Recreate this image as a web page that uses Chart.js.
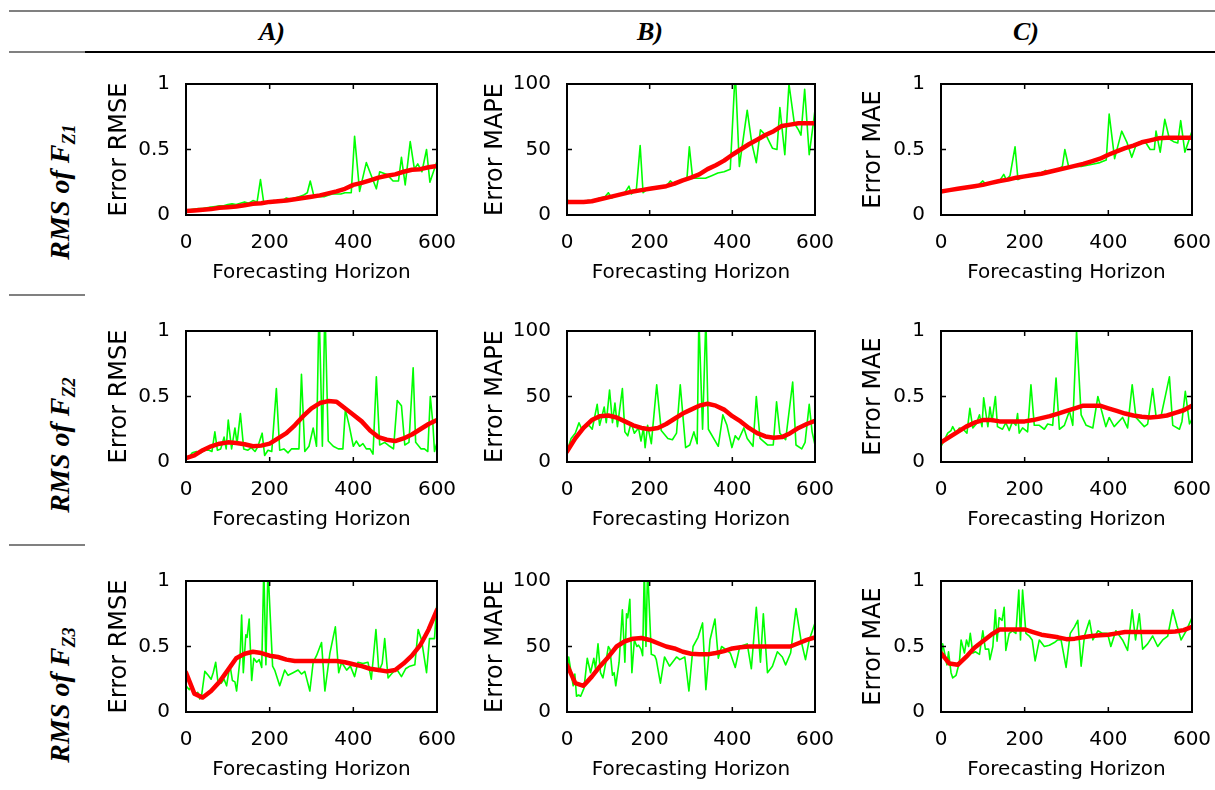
<!DOCTYPE html>
<html>
<head>
<meta charset="utf-8">
<title>Forecasting error vs horizon</title>
<script src="https://cdn.jsdelivr.net/npm/chart.js@4.4.1/dist/chart.umd.min.js"></script>
<style>
  body { margin: 0; background: #fff; }
  #page { position: relative; width: 1215px; height: 790px; overflow: hidden; background: #fff; }
  .rule { position: absolute; height: 2px; }
  .colhead { position: absolute; top: 32px; transform: translate(-50%, -50%);
             font: italic bold 26px "Liberation Serif", "Times New Roman", serif; }
  .rowlab { position: absolute; left: 62px; white-space: nowrap;
            transform: translate(-50%, -50%) rotate(-90deg);
            font: italic bold 28px "Liberation Serif", "Times New Roman", serif; }
  .rowlab sub { font-size: 0.65em; }
  canvas { position: absolute; }
</style>
</head>
<body>
<div id="page">
  <div class="rule" style="left:9px; width:1206px; top:10px; background:#808080"></div>
  <div class="rule" style="left:9px; width:76px; top:51px; background:#808080"></div>
  <div class="rule" style="left:85px; width:1130px; top:51px; background:#000"></div>
  <div class="rule" style="left:9px; width:76px; top:294px; background:#808080"></div>
  <div class="rule" style="left:9px; width:76px; top:544px; background:#808080"></div>

  <div class="colhead" style="left:272px">A)</div>
  <div class="colhead" style="left:650px">B)</div>
  <div class="colhead" style="left:1026px">C)</div>

  <div class="rowlab" style="top:192px">RMS of F<sub>Z1</sub></div>
  <div class="rowlab" style="top:445px">RMS of F<sub>Z2</sub></div>
  <div class="rowlab" style="top:695px">RMS of F<sub>Z3</sub></div>
</div>

<script>
// horizon grid of the smoothed (red) curves
const horizonSmooth = [0, 20, 40, 60, 80, 100, 120, 140, 160, 180, 200, 220, 240, 260, 280, 300,
                       320, 340, 360, 380, 400, 420, 440, 460, 480, 500, 520, 540, 560, 580, 600];

// ---- F_Z1 ----
const rawRmseZ1 = [[0,0.04],[10,0.04],[20,0.045],[30,0.05],[40,0.05],[50,0.055],[60,0.06],[70,0.065],[80,0.07],[90,0.07],
  [100,0.08],[110,0.085],[120,0.08],[130,0.09],[140,0.1],[150,0.09],[160,0.11],[170,0.1],[178,0.27],[186,0.09],[200,0.1],
  [210,0.11],[220,0.1],[230,0.11],[240,0.13],[250,0.12],[260,0.13],[270,0.14],[280,0.15],[290,0.17],[297,0.26],[306,0.14],
  [320,0.14],[330,0.14],[340,0.15],[350,0.16],[360,0.16],[370,0.16],[380,0.17],[395,0.17],[403,0.6],[415,0.18],[431,0.4],
  [443,0.3],[455,0.2],[463,0.33],[480,0.31],[495,0.26],[508,0.26],[515,0.44],[524,0.23],[536,0.56],[546,0.35],[554,0.39],
  [564,0.33],[575,0.5],[583,0.25],[600,0.41]];
const smoothRmseZ1 = [0.03,0.035,0.04,0.045,0.055,0.06,0.065,0.075,0.085,0.09,0.1,0.105,0.11,0.12,0.13,0.14,
  0.15,0.165,0.18,0.2,0.23,0.245,0.265,0.285,0.3,0.31,0.33,0.345,0.35,0.365,0.375];

const rawMapeZ1 = [[0,12],[8,9],[20,9.5],[30,10],[40,10],[50,11],[60,11],[70,12],[80,13],[92,14],[100,17],[108,13],
  [120,15],[130,16],[140,17],[150,22],[156,16],[168,20],[177,53],[184,17],[195,20],[205,21],[215,20],[225,22],[240,22],
  [250,26],[260,23],[270,25],[280,26],[290,27],[296,52],[304,28],[320,28],[335,28],[350,30],[365,32],[380,33],[395,35],
  [407,110],[417,37],[436,80],[447,55],[458,40],[468,65],[483,60],[497,51],[508,50],[515,82],[527,46],[537,100],
  [550,70],[560,65],[566,61],[575,96],[586,46],[600,80]];
const smoothMapeZ1 = [10,10,10,10.5,12,13.5,15,16.5,18,19,20,21,22,24,26.5,28.5,
  31,35,38,41.5,46,50,54,57.5,61,64,68,69,70,70,70];

const rawMaeZ1 = [[0,0.18],[10,0.19],[20,0.19],[30,0.2],[40,0.2],[50,0.21],[60,0.21],[70,0.22],[80,0.22],[90,0.23],
  [100,0.26],[108,0.23],[120,0.25],[130,0.25],[140,0.26],[150,0.31],[156,0.27],[165,0.3],[177,0.52],[184,0.27],[195,0.29],
  [210,0.3],[220,0.3],[230,0.31],[240,0.32],[250,0.34],[260,0.33],[270,0.34],[280,0.35],[290,0.37],[296,0.5],[305,0.37],
  [320,0.37],[335,0.37],[350,0.38],[365,0.39],[380,0.4],[395,0.42],[402,0.77],[415,0.43],[432,0.64],[445,0.55],[456,0.44],
  [468,0.55],[480,0.56],[490,0.55],[500,0.5],[510,0.5],[514,0.64],[524,0.48],[535,0.73],[546,0.58],[556,0.56],[566,0.55],
  [573,0.72],[583,0.48],[600,0.64]];
const smoothMaeZ1 = [0.18,0.19,0.2,0.21,0.22,0.23,0.245,0.26,0.27,0.285,0.295,0.305,0.315,0.33,0.345,0.36,
  0.375,0.39,0.41,0.43,0.46,0.485,0.51,0.53,0.555,0.57,0.585,0.59,0.59,0.59,0.59];

// ---- F_Z2 ----
const rawRmseZ2 = [[0,0.03],[8,0.04],[15,0.07],[25,0.08],[35,0.07],[45,0.09],[55,0.09],[62,0.08],[69,0.23],[75,0.09],
  [83,0.1],[91,0.19],[96,0.1],[101,0.32],[109,0.1],[117,0.26],[122,0.14],[130,0.37],[138,0.1],[148,0.09],[156,0.11],
  [165,0.08],[172,0.12],[182,0.22],[188,0.05],[196,0.09],[205,0.08],[216,0.56],[224,0.09],[234,0.1],[244,0.07],[252,0.1],
  [262,0.1],[270,0.1],[276,0.67],[284,0.08],[294,0.12],[304,0.26],[312,0.12],[318,1.2],[326,0.12],[332,1.2],[340,0.16],
  [352,0.12],[364,0.1],[375,0.1],[381,0.4],[390,0.28],[400,0.12],[407,0.16],[415,0.12],[423,0.14],[431,0.1],[440,0.1],
  [447,0.06],[455,0.65],[463,0.13],[475,0.15],[487,0.12],[496,0.1],[505,0.47],[515,0.43],[523,0.13],[533,0.15],[543,0.72],
  [549,0.15],[562,0.1],[570,0.1],[578,0.08],[584,0.5],[590,0.3],[594,0.08],[600,0.15]];
const smoothRmseZ2 = [0.03,0.05,0.09,0.12,0.14,0.15,0.145,0.135,0.12,0.125,0.14,0.18,0.22,0.28,0.35,0.41,
  0.45,0.465,0.46,0.41,0.36,0.31,0.24,0.19,0.17,0.16,0.18,0.21,0.25,0.29,0.32];

const rawMapeZ2 = [[0,8],[10,18],[20,22],[29,30],[37,24],[45,27],[53,28],[61,25],[73,44],[79,28],[90,42],[95,30],[103,55],
  [110,30],[116,45],[122,27],[134,56],[140,23],[147,20],[155,30],[163,22],[173,26],[179,16],[185,26],[189,11],[195,28],
  [204,14],[217,59],[228,24],[244,18],[255,17],[265,22],[274,59],[287,11],[297,13],[307,23],[315,14],[319,110],[328,25],
  [336,110],[342,25],[366,12],[377,36],[387,28],[399,11],[407,20],[415,17],[428,26],[436,18],[450,12],[458,50],[467,18],
  [485,13],[499,13],[507,46],[515,22],[529,17],[546,61],[554,13],[568,10],[576,15],[586,44],[593,23],[600,13]];
const smoothMapeZ2 = [8,18,26,32,35,35.5,34,31,28,26,25,26,29,33,37,40,
  43,44.5,43,40,35,31,26,22,19.5,18.5,19,22,26,29,31.5];

const rawMaeZ2 = [[0,0.12],[10,0.18],[16,0.22],[24,0.24],[28,0.27],[36,0.22],[44,0.26],[53,0.25],[62,0.22],[69,0.41],
  [76,0.26],[84,0.29],[92,0.36],[98,0.27],[102,0.49],[112,0.27],[117,0.42],[122,0.31],[130,0.5],[135,0.27],[147,0.25],
  [155,0.3],[163,0.24],[171,0.31],[179,0.28],[183,0.37],[187,0.22],[195,0.26],[207,0.23],[215,0.59],[223,0.28],[235,0.28],
  [247,0.25],[255,0.29],[267,0.28],[275,0.64],[283,0.25],[295,0.28],[307,0.39],[315,0.28],[324,1.0],[335,0.36],[347,0.28],
  [363,0.26],[375,0.5],[394,0.27],[402,0.34],[414,0.27],[434,0.34],[446,0.26],[457,0.59],[466,0.34],[486,0.27],[494,0.29],
  [506,0.56],[514,0.35],[526,0.35],[546,0.65],[554,0.28],[570,0.25],[576,0.31],[584,0.54],[594,0.29],[600,0.33]];
const smoothMaeZ2 = [0.15,0.19,0.23,0.27,0.3,0.32,0.32,0.31,0.31,0.31,0.31,0.32,0.335,0.35,0.37,0.39,
  0.41,0.43,0.43,0.43,0.41,0.39,0.37,0.355,0.345,0.34,0.345,0.355,0.375,0.395,0.43];

// ---- F_Z3 ----
const rawRmseZ3 = [[0,0.2],[8,0.17],[14,0.2],[20,0.13],[28,0.15],[33,0.1],[37,0.12],[45,0.31],[53,0.28],[60,0.25],
  [65,0.3],[71,0.38],[76,0.24],[84,0.22],[91,0.25],[97,0.2],[105,0.36],[111,0.24],[117,0.23],[121,0.16],[129,0.4],
  [133,0.74],[137,0.3],[143,0.59],[146,0.57],[151,0.71],[157,0.24],[162,0.41],[169,0.38],[175,0.4],[181,0.34],[186,1.1],
  [191,0.36],[196,1.1],[203,0.62],[207,0.35],[212,0.32],[224,0.2],[236,0.32],[244,0.28],[256,0.3],[268,0.32],[276,0.29],
  [284,0.31],[296,0.16],[304,0.38],[312,0.43],[324,0.53],[332,0.16],[344,0.45],[357,0.65],[365,0.3],[372,0.38],[384,0.32],
  [393,0.35],[403,0.27],[411,0.38],[423,0.37],[435,0.38],[443,0.25],[454,0.63],[461,0.31],[469,0.37],[475,0.56],[483,0.26],
  [491,0.29],[503,0.33],[515,0.27],[525,0.33],[535,0.35],[547,0.36],[555,0.63],[563,0.55],[575,0.3],[582,0.56],[594,0.56],
  [600,0.84]];
const smoothRmseZ3 = [0.3,0.14,0.11,0.16,0.23,0.32,0.41,0.445,0.46,0.45,0.43,0.42,0.4,0.39,0.39,0.39,
  0.39,0.39,0.39,0.38,0.365,0.35,0.33,0.32,0.31,0.32,0.37,0.43,0.51,0.63,0.78];

const rawMapeZ3 = [[0,31],[4,42],[11,28],[15,20],[19,29],[23,12],[28,13],[33,12],[41,18],[49,41],[57,30],[65,41],[69,33],
  [75,52],[81,30],[87,26],[94,38],[100,50],[104,48],[110,28],[114,30],[118,20],[126,38],[134,78],[140,38],[144,75],[147,72],
  [152,86],[157,30],[163,55],[169,50],[173,51],[179,48],[183,43],[187,110],[191,50],[195,110],[204,44],[212,43],[216,40],
  [226,22],[236,42],[248,35],[265,42],[273,40],[285,42],[295,16],[305,50],[317,57],[328,68],[336,17],[346,55],[358,71],
  [366,41],[374,50],[387,47],[395,45],[407,34],[418,50],[427,51],[436,52],[446,33],[458,80],[468,38],[475,75],[485,30],
  [497,35],[509,46],[521,42],[529,36],[541,45],[554,79],[566,55],[577,40],[586,55],[600,68]];
const smoothMapeZ3 = [36,22,20,27,35,42,50,54,56,56.5,55,52.5,50,48.5,46,44.5,
  44,44,45,46.5,48.5,49.5,50,50,50,50,50,50,52.5,55,57];

const rawMaeZ3 = [[0,0.4],[4,0.52],[10,0.43],[14,0.36],[18,0.46],[24,0.3],[28,0.26],[36,0.28],[44,0.38],[48,0.55],
  [56,0.45],[61,0.55],[66,0.5],[70,0.6],[76,0.45],[82,0.46],[92,0.44],[100,0.62],[106,0.48],[114,0.48],[117,0.4],[124,0.5],
  [130,0.78],[134,0.54],[139,0.72],[146,0.7],[151,0.8],[155,0.47],[163,0.6],[171,0.62],[179,0.6],[186,0.93],[190,0.55],
  [195,0.93],[203,0.6],[211,0.58],[218,0.55],[225,0.39],[235,0.55],[247,0.5],[259,0.51],[271,0.53],[279,0.55],[287,0.55],
  [299,0.34],[309,0.6],[319,0.65],[327,0.7],[335,0.35],[343,0.58],[355,0.7],[363,0.55],[375,0.62],[386,0.6],[398,0.6],
  [406,0.5],[418,0.62],[434,0.55],[446,0.47],[457,0.78],[465,0.55],[474,0.75],[482,0.48],[494,0.52],[506,0.58],[518,0.5],
  [530,0.55],[542,0.58],[554,0.78],[564,0.66],[574,0.55],[586,0.62],[600,0.72]];
const smoothMaeZ3 = [0.45,0.37,0.36,0.42,0.49,0.54,0.59,0.63,0.63,0.63,0.63,0.61,0.59,0.58,0.57,0.556,
  0.56,0.57,0.58,0.585,0.59,0.6,0.61,0.61,0.61,0.61,0.61,0.61,0.615,0.625,0.65];

// panel layout (plot-area pixels)
const colLeft = [186, 567, 941];
const colWidth = [251, 248, 251];
const rowTop = [84, 331, 581];
const plotHeight = 131;
const yAxisBox = 90, xAxisBox = 80, padTop = 22, padRight = 35;
const yTitleGap = [9, 4, 8];

const metricAxis = {
  RMSE: { max: 1, step: 0.5 },
  MAPE: { max: 100, step: 50 },
  MAE: { max: 1, step: 0.5 }
};

const panels = [
  { row: 0, col: 0, metric: 'RMSE', raw: rawRmseZ1, smooth: smoothRmseZ1 },
  { row: 0, col: 1, metric: 'MAPE', raw: rawMapeZ1, smooth: smoothMapeZ1 },
  { row: 0, col: 2, metric: 'MAE', raw: rawMaeZ1, smooth: smoothMaeZ1 },
  { row: 1, col: 0, metric: 'RMSE', raw: rawRmseZ2, smooth: smoothRmseZ2 },
  { row: 1, col: 1, metric: 'MAPE', raw: rawMapeZ2, smooth: smoothMapeZ2 },
  { row: 1, col: 2, metric: 'MAE', raw: rawMaeZ2, smooth: smoothMaeZ2 },
  { row: 2, col: 0, metric: 'RMSE', raw: rawRmseZ3, smooth: smoothRmseZ3 },
  { row: 2, col: 1, metric: 'MAPE', raw: rawMapeZ3, smooth: smoothMapeZ3 },
  { row: 2, col: 2, metric: 'MAE', raw: rawMaeZ3, smooth: smoothMaeZ3 }
];

// closed axes box with inward tick marks on all four sides
const boxAxes = {
  id: 'boxAxes',
  afterDatasetsDraw(chart) {
    const { ctx, chartArea: a, scales } = chart;
    ctx.save();
    ctx.strokeStyle = '#000';
    ctx.lineWidth = 2;
    ctx.strokeRect(a.left, a.top, a.right - a.left, a.bottom - a.top);
    ctx.lineWidth = 1.5;
    ctx.beginPath();
    scales.x.ticks.forEach(t => {
      const px = scales.x.getPixelForValue(t.value);
      if (px <= a.left + 1 || px >= a.right - 1) return;
      ctx.moveTo(px, a.bottom); ctx.lineTo(px, a.bottom - 5);
      ctx.moveTo(px, a.top); ctx.lineTo(px, a.top + 5);
    });
    scales.y.ticks.forEach(t => {
      const py = scales.y.getPixelForValue(t.value);
      if (py <= a.top + 1 || py >= a.bottom - 1) return;
      ctx.moveTo(a.left, py); ctx.lineTo(a.left + 5, py);
      ctx.moveTo(a.right, py); ctx.lineTo(a.right - 5, py);
    });
    ctx.stroke();
    ctx.restore();
  }
};

const tickFont = { family: 'DejaVu Sans', size: 20 };
const page = document.getElementById('page');

panels.forEach(p => {
  const axis = metricAxis[p.metric];
  const canvas = document.createElement('canvas');
  canvas.width = yAxisBox + colWidth[p.col] + padRight;
  canvas.height = padTop + plotHeight + xAxisBox;
  canvas.style.left = (colLeft[p.col] - yAxisBox) + 'px';
  canvas.style.top = (rowTop[p.row] - padTop) + 'px';
  page.appendChild(canvas);

  new Chart(canvas, {
    type: 'line',
    data: {
      datasets: [{
        data: p.raw.map(([x, y]) => ({ x, y })),
        borderColor: 'rgb(0,255,0)',
        borderWidth: 1.6,
        borderJoinStyle: 'round',
        pointRadius: 0,
        tension: 0,
        order: 1
      }, {
        data: horizonSmooth.map((x, i) => ({ x, y: p.smooth[i] })),
        borderColor: 'rgb(255,0,0)',
        borderWidth: 4.5,
        borderJoinStyle: 'round',
        borderCapStyle: 'round',
        pointRadius: 0,
        tension: 0,
        order: 0
      }]
    },
    options: {
      responsive: false,
      animation: false,
      devicePixelRatio: 1,
      layout: { padding: { top: padTop, right: padRight, left: 0, bottom: 0 } },
      plugins: { legend: { display: false }, tooltip: { enabled: false } },
      scales: {
        x: {
          type: 'linear', min: 0, max: 600,
          grid: { display: false }, border: { display: false },
          ticks: { stepSize: 200, color: '#000', font: tickFont, padding: 8, maxRotation: 0,
                   callback: v => String(v) },
          title: { display: true, text: 'Forecasting Horizon', color: '#000', font: tickFont,
                   padding: { top: 0, bottom: 10 } },
          afterFit: s => { s.height = xAxisBox; }
        },
        y: {
          min: 0, max: axis.max,
          grid: { display: false }, border: { display: false },
          ticks: { stepSize: axis.step, color: '#000', font: tickFont, padding: 8,
                   callback: v => String(v) },
          title: { display: true, text: 'Error ' + p.metric, color: '#000',
                   font: { family: 'DejaVu Sans', size: 24 },
                   padding: { top: yTitleGap[p.col], bottom: 0 } },
          afterFit: s => { s.width = yAxisBox; }
        }
      }
    },
    plugins: [boxAxes]
  });
});
</script>
</body>
</html>
